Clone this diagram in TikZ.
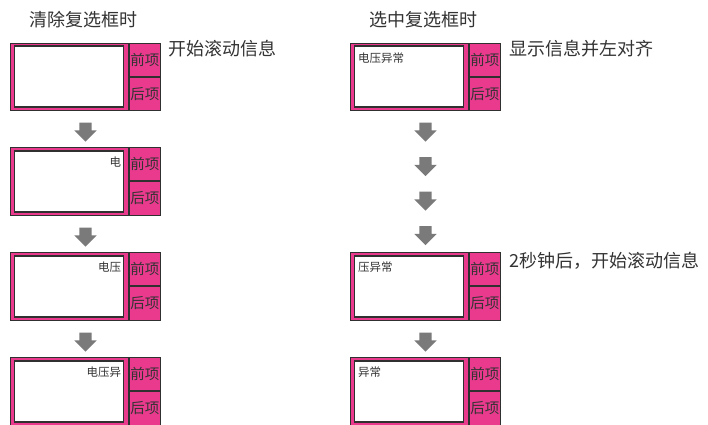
\documentclass[tikz,border=0pt]{standalone}
\usepackage{fontspec}
\setmainfont{Noto Sans CJK SC}
\usetikzlibrary{shapes.arrows, positioning}
\definecolor{panelpink}{HTML}{E93A8E}
\definecolor{framegray}{HTML}{303030}
\definecolor{arrowgray}{HTML}{7A7A7A}
\definecolor{textgray}{HTML}{333333}

\begin{document}
\begin{tikzpicture}[
    x=1pt, y=-1pt,
    every node/.style={inner sep=0pt, outer sep=0pt, text=textgray},
    panel/.style={draw=framegray, line width=1pt, fill=panelpink, minimum width=118pt, minimum height=67.5pt, anchor=north west},
    screen/.style={draw=framegray, line width=1.8pt, fill=white, minimum width=109pt, minimum height=61pt},
    btn/.style={draw=framegray, line width=1pt, fill=panelpink, minimum width=31.5pt, minimum height=33.25pt, anchor=north west, font=\fontsize{14.5}{16}\selectfont},
    msg/.style={font=\fontsize{11.5}{13}\selectfont},
    darrow/.style={single arrow, rotate=-90, fill=arrowgray, inner xsep=0pt, inner ysep=6pt, minimum height=19pt, single arrow head extend=5pt},
    title/.style={anchor=west, font=\fontsize{18}{20}\selectfont},
    note/.style={anchor=west, font=\fontsize{18}{20}\selectfont}
]
    \useasboundingbox[fill=white] (0,0) rectangle (708,424);

    % headings
    \node[title] (t1) at (29,20) {清除复选框时};
    \node[title] (t2) at (369,20) {选中复选框时};

    % left column: checkbox cleared
    \node[panel] (p1) at (10,43) {};
    \node[screen] (s1) at (p1.center) {};
    \node[btn, xshift=1.2pt] (bu1) at (p1.north east) {前项};
    \node[btn, yshift=-1pt] (bd1) at (bu1.south west) {后项};

    \node[panel] (p2) at (10,147.5) {};
    \node[screen] (s2) at (p2.center) {};
    \node[btn, xshift=1.2pt] (bu2) at (p2.north east) {前项};
    \node[btn, yshift=-1pt] (bd2) at (bu2.south west) {后项};
    \node[msg, anchor=east, xshift=-7pt, yshift=-15pt] (m2) at (p2.north east) {电};

    \node[panel] (p3) at (10,252.5) {};
    \node[screen] (s3) at (p3.center) {};
    \node[btn, xshift=1.2pt] (bu3) at (p3.north east) {前项};
    \node[btn, yshift=-1pt] (bd3) at (bu3.south west) {后项};
    \node[msg, anchor=east, xshift=-7pt, yshift=-15pt] (m3) at (p3.north east) {电压};

    \node[panel] (p4) at (10,357.5) {};
    \node[screen] (s4) at (p4.center) {};
    \node[btn, xshift=1.2pt] (bu4) at (p4.north east) {前项};
    \node[btn, yshift=-1pt] (bd4) at (bu4.south west) {后项};
    \node[msg, anchor=east, xshift=-7pt, yshift=-15pt] (m4) at (p4.north east) {电压异};

    \node[darrow] (a1) at (85.5,129) {};
    \node[darrow] (a2) at (85.5,234) {};
    \node[darrow] (a3) at (85.5,339) {};

    \node[note] (n1) at (168,49) {开始滚动信息};

    % right column: checkbox selected
    \node[panel] (q1) at (350,43) {};
    \node[screen] (r1) at (q1.center) {};
    \node[btn, xshift=1.2pt] (cu1) at (q1.north east) {前项};
    \node[btn, yshift=-1pt] (cd1) at (cu1.south west) {后项};
    \node[msg, anchor=west, xshift=8pt, yshift=-15pt] (k1) at (q1.north west) {电压异常};

    \node[panel] (q2) at (350,252.5) {};
    \node[screen] (r2) at (q2.center) {};
    \node[btn, xshift=1.2pt] (cu2) at (q2.north east) {前项};
    \node[btn, yshift=-1pt] (cd2) at (cu2.south west) {后项};
    \node[msg, anchor=west, xshift=8pt, yshift=-15pt] (k2) at (q2.north west) {压异常};

    \node[panel] (q3) at (350,357.5) {};
    \node[screen] (r3) at (q3.center) {};
    \node[btn, xshift=1.2pt] (cu3) at (q3.north east) {前项};
    \node[btn, yshift=-1pt] (cd3) at (cu3.south west) {后项};
    \node[msg, anchor=west, xshift=8pt, yshift=-15pt] (k3) at (q3.north west) {异常};

    \node[darrow] (e1) at (425.5,129) {};
    \node[darrow] (e2) at (425.5,163.5) {};
    \node[darrow] (e3) at (425.5,198) {};
    \node[darrow] (e4) at (425.5,232.5) {};
    \node[darrow] (e5) at (425.5,339) {};

    \node[note] (n2) at (509,49) {显示信息并左对齐};
    \node[note] (n3) at (509,261) {2秒钟后，开始滚动信息};
\end{tikzpicture}
\end{document}
